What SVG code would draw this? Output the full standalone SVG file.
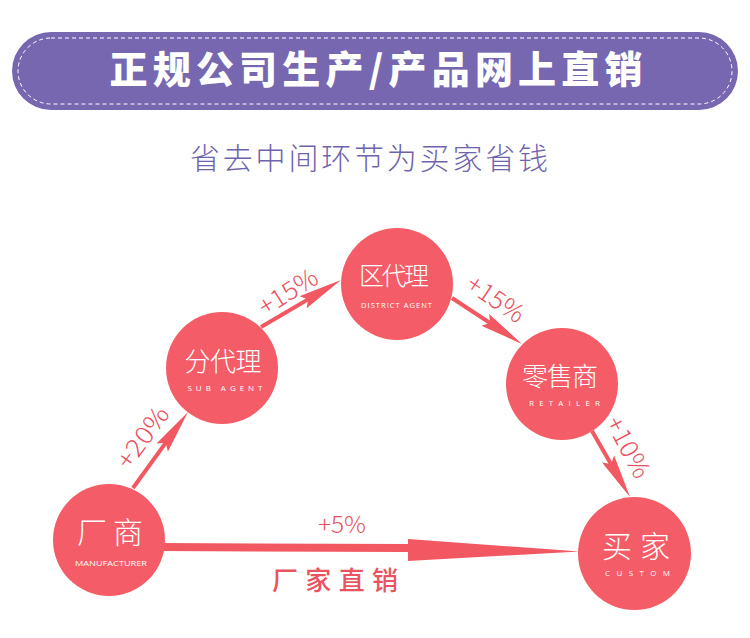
<svg xmlns="http://www.w3.org/2000/svg" width="750" height="638" viewBox="0 0 750 638">
<defs>
<style>
.cjk{font-family:"Noto Sans CJK SC","Noto Sans",sans-serif}
.node circle{fill:#f45c68}
.zh{fill:#ffffff;font-size:26px;font-weight:300;text-anchor:middle}
.en{fill:#ffffff;font-size:8px;font-family:"Open Sans","Liberation Sans",sans-serif;text-anchor:middle}
.pct{fill:#e8525f;font-size:25px;font-weight:300;text-anchor:middle;dominant-baseline:central}
.ln{stroke:#f15862;stroke-width:4;fill:none;marker-end:url(#head)}
</style>
<marker id="head" viewBox="0 0 44 14" refX="30" refY="7" markerWidth="44" markerHeight="14" markerUnits="userSpaceOnUse" orient="auto">
<path d="M0,0 L44,7 L0,14 L6,7 Z" fill="#f15862"/>
</marker>
</defs>
<rect width="750" height="638" fill="#ffffff"/>
<g id="banner">
<rect x="12" y="32" width="726" height="78" rx="39" fill="#7767b1"/>
<rect x="18" y="38" width="714" height="66" rx="33" fill="none" stroke="#ffffff" stroke-width="1" stroke-dasharray="4 3"/>
<text class="cjk" x="376" y="83" font-size="38" font-weight="900" fill="#ffffff" text-anchor="middle" textLength="533" lengthAdjust="spacing">正规公司生产/产品网上直销</text>
</g>
<text id="subtitle" class="cjk" x="369" y="169" font-size="30" font-weight="300" fill="#6f63ad" text-anchor="middle" textLength="358" lengthAdjust="spacing">省去中间环节为买家省钱</text>
<g id="connectors">
<line class="ln" x1="133" y1="488" x2="179.8" y2="423.3"/>
<line class="ln" x1="261" y1="327" x2="328.9" y2="287.1"/>
<line class="ln" x1="452" y1="298" x2="510.3" y2="336.3"/>
<line class="ln" x1="592" y1="431" x2="623" y2="484.9"/>
<polygon points="160,543 408,544 408,539 580,551.5 408,561 408,552 160,551" fill="#f15862"/>
<text class="cjk pct" transform="translate(141,436) rotate(-54)" textLength="70" lengthAdjust="spacingAndGlyphs">+20%</text>
<text class="cjk pct" transform="translate(287,290) rotate(-32)" textLength="65" lengthAdjust="spacingAndGlyphs">+15%</text>
<text class="cjk pct" transform="translate(497,297) rotate(34)" textLength="64" lengthAdjust="spacingAndGlyphs">+15%</text>
<text class="cjk pct" transform="translate(630,446) rotate(62)" textLength="66" lengthAdjust="spacingAndGlyphs">+10%</text>
<text class="cjk pct" transform="translate(342,523)" style="font-size:23px" textLength="48" lengthAdjust="spacingAndGlyphs">+5%</text>
<text class="cjk" x="335" y="590" font-size="26" font-weight="500" fill="#ea5360" text-anchor="middle" textLength="126" lengthAdjust="spacing">厂家直销</text>
</g>
<g id="node-manufacturer" class="node">
<circle cx="109" cy="540" r="56"/>
<text class="cjk zh" x="110" y="543" style="font-size:30px" textLength="66" lengthAdjust="spacing">厂商</text>
<text class="en" x="111" y="566" textLength="72" lengthAdjust="spacingAndGlyphs">MANUFACTURER</text>
</g>
<g id="node-subagent" class="node">
<circle cx="222" cy="368" r="56"/>
<text class="cjk zh" x="223" y="371" textLength="77" lengthAdjust="spacing">分代理</text>
<text class="en" x="225" y="391" textLength="75" lengthAdjust="spacing">SUB AGENT</text>
</g>
<g id="node-district" class="node">
<circle cx="397" cy="284" r="56"/>
<text class="cjk zh" x="394" y="285" style="font-size:25px" textLength="70" lengthAdjust="spacing">区代理</text>
<text class="en" x="396.5" y="308" style="font-size:7.5px" textLength="71" lengthAdjust="spacing">DISTRICT AGENT</text>
</g>
<g id="node-retailer" class="node">
<circle cx="562" cy="384" r="56"/>
<text class="cjk zh" x="560" y="386" textLength="76" lengthAdjust="spacing">零售商</text>
<text class="en" x="564.5" y="406" textLength="71" lengthAdjust="spacing">RETAILER</text>
</g>
<g id="node-customer" class="node">
<circle cx="634.5" cy="553.5" r="56.5"/>
<text class="cjk zh" x="636" y="557" style="font-size:30px" textLength="68" lengthAdjust="spacing">买家</text>
<text class="en" x="637.5" y="576" textLength="65" lengthAdjust="spacing">CUSTOM</text>
</g>
</svg>
